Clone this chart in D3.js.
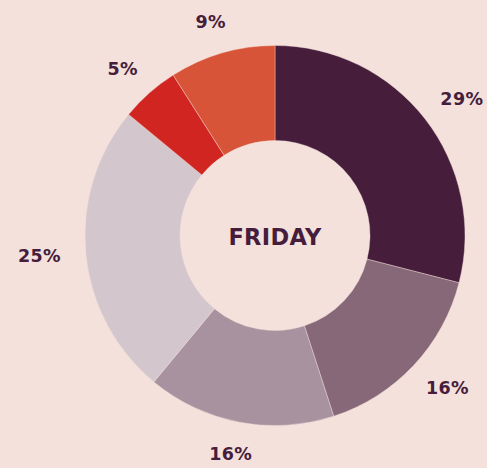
<!DOCTYPE html>
<html>
<head>
<meta charset="utf-8">
<script src="https://cdn.jsdelivr.net/npm/d3@7"></script>
<style>
  html, body { margin: 0; padding: 0; background: #f4e1dc; }
  svg { display: block; }
</style>
</head>
<body>
<svg id="chart" width="487" height="468"></svg>
<script>
const categories = ["A", "B", "C", "D", "E", "F"];
const values = [29, 16, 16, 25, 5, 9];
const labels = ["29%", "16%", "16%", "25%", "5%", "9%"];
const colors = ["#461d3b", "#876878", "#a8929f", "#d3c6cc", "#d12521", "#d85438"];
const centerTitle = "FRIDAY";

const width = 487, height = 468;
const cx = 275, cy = 235.5;
const outerR = 190, innerR = 95, labelGap = 215, halfH = 7.5;

const svg = d3.select("#chart");
const g = svg.append("g").attr("transform", `translate(${cx},${cy})`);

const data = categories.map((c, i) => ({ cat: c, value: values[i], label: labels[i], color: colors[i] }));
const pie = d3.pie().value(d => d.value).sort(null);
const arcs = pie(data);
const arc = d3.arc().innerRadius(innerR).outerRadius(outerR);

g.selectAll("path.slice")
  .data(arcs)
  .enter().append("path")
  .attr("class", "slice")
  .attr("d", arc)
  .attr("fill", d => d.data.color)
  .attr("stroke", "#f4e1dc")
  .attr("stroke-width", 0.4);

const lbl = g.selectAll("text.lbl")
  .data(arcs)
  .enter().append("text")
  .attr("class", "lbl")
  .attr("text-anchor", "middle")
  .attr("dominant-baseline", "central")
  .attr("font-family", "'DejaVu Sans', sans-serif")
  .attr("font-weight", 700)
  .attr("font-size", 17.5)
  .attr("letter-spacing", 0.4)
  .attr("fill", "#461d3b")
  .text(d => d.data.label);

lbl.attr("transform", function(d) {
  const a = (d.startAngle + d.endAngle) / 2;
  const s = Math.sin(a), c = Math.cos(a);
  const hw = this.getComputedTextLength() / 2;
  const x = s * labelGap + s * hw;
  const y = -c * labelGap - c * halfH;
  return `translate(${x},${y})`;
});

g.append("text")
  .attr("x", 0)
  .attr("y", 1.5)
  .attr("text-anchor", "middle")
  .attr("dominant-baseline", "central")
  .attr("font-family", "'DejaVu Sans', sans-serif")
  .attr("font-weight", 700)
  .attr("font-size", 22.5)
  .attr("letter-spacing", 0.3)
  .attr("fill", "#461d3b")
  .text(centerTitle);
</script>
</body>
</html>
